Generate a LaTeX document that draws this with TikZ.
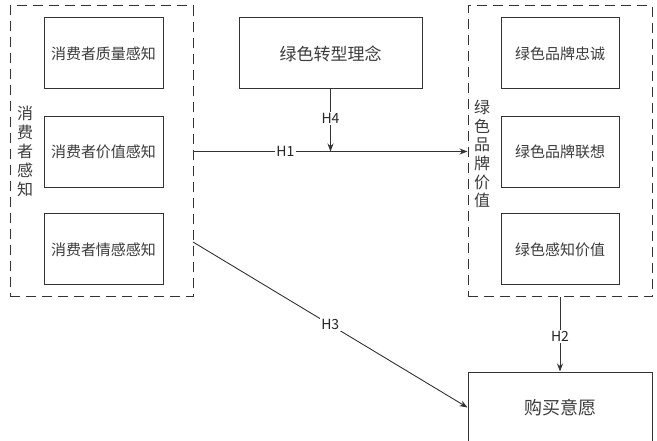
\documentclass[tikz,border=0pt]{standalone}
\usepackage{fontspec}
\newfontfamily\cjk{Noto Sans CJK SC}
\usetikzlibrary{arrows.meta}
\definecolor{linec}{HTML}{333333}
\definecolor{textc}{HTML}{3C3C3C}
\tikzset{
  box/.style={draw=linec, line width=1pt, minimum width=119pt, minimum height=71pt, inner sep=0pt, font=\cjk\fontsize{15}{18}\selectfont, text=textc},
  bigbox/.style={box, minimum width=183pt, font=\cjk\fontsize{17}{20}\selectfont},
  group/.style={draw=linec, line width=1pt, dash pattern=on 10pt off 6pt, minimum width=183pt, minimum height=291pt, inner sep=0pt},
  vlabel/.style={align=center, inner sep=0pt, font=\cjk\fontsize{16}{19}\selectfont, text=textc},
  conn/.style={draw=linec, line width=0.9pt, -{Stealth[length=8pt,width=6pt]}},
  hlab/.style={fill=white, inner sep=1.5pt, font=\cjk\fontsize{14}{16}\selectfont, text=black!85},
}
\begin{document}
\begin{tikzpicture}[x=1pt,y=-1pt]
\useasboundingbox (0,0) rectangle (657,441);
\clip (0,0) rectangle (657,441);
\fill[white] (0,0) rectangle (657,441);
% left group
\node[group] (L) at (101.5,151.5) {};
\node[box] (q1) at (103.5,53.5) {消费者质量感知};
\node[box] (q2) at (103.5,152) {消费者价值感知};
\node[box] (q3) at (103.5,249.5) {消费者情感感知};
\node[vlabel] (Llab) at (25,151) {消\\费\\者\\感\\知};
% top centre
\node[bigbox] (T) at (330.5,53.5) {绿色转型理念};
% right group
\node[group, minimum width=184pt] (R) at (560,151.5) {};
\node[box, minimum width=118pt] (r1) at (560,53.5) {绿色品牌忠诚};
\node[box, minimum width=118pt] (r2) at (560,152) {绿色品牌联想};
\node[box, minimum width=118pt] (r3) at (560,249.5) {绿色感知价值};
\node[vlabel, font=\cjk\fontsize{16}{18.7}\selectfont] (Rlab) at (482,154) {绿\\色\\品\\牌\\价\\值};
% bottom
\node[bigbox, minimum width=184pt, font=\cjk\fontsize{18}{21}\selectfont] (B) at (560,407.5) {购买意愿};
% connectors
\coordinate (j) at (T.south |- L.east);
\coordinate (h3s) at (193,242);
\draw[conn] (L.east) -- node[hlab, pos=0.335] (h1) {H1} (R.west);
\draw[conn] (T.south) -- node[hlab, pos=0.47] (h4) {H4} (j);
\draw[conn] (R.south) -- node[hlab, pos=0.53] (h2) {H2} (B.north);
\draw[conn] (h3s) -- node[hlab, pos=0.5] (h3) {H3} (B.west);
\end{tikzpicture}
\end{document}
